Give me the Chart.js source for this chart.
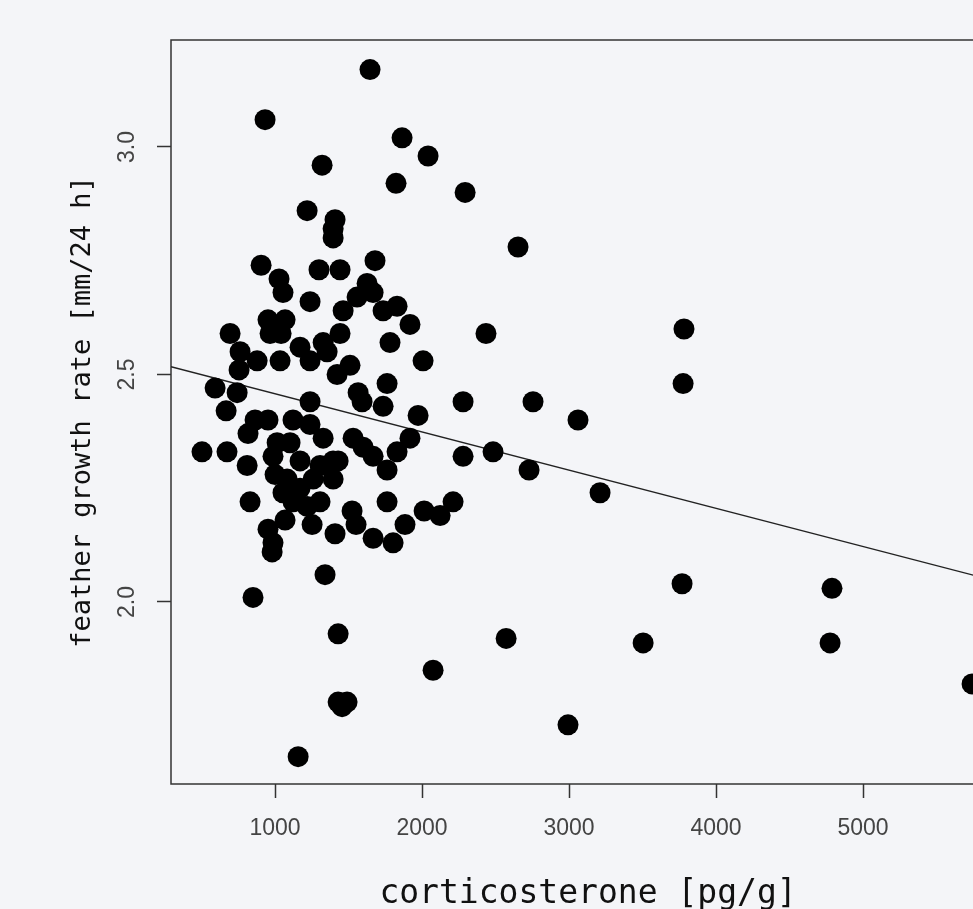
<!DOCTYPE html>
<html>
<head>
<meta charset="utf-8">
<script src="https://cdn.jsdelivr.net/npm/chart.js@4"></script>
<style>
  html, body { margin: 0; padding: 0; background: #f4f5f8; overflow: hidden; }
  #wrap { width: 1040px; height: 909px; }
</style>
</head>
<body>
<div id="wrap"><canvas id="chart" width="1040" height="909"></canvas></div>
<script>
// ── Data ─────────────────────────────────────────────────────────────────────

const corticosterone = [
  1646, 932, 1864, 2041, 1320, 1823, 2293, 1218, 1408, 1395, 1395, 2653,
  905, 1680, 1299, 1442, 1027, 1054, 1626, 1667, 1238, 1558, 1463, 1830,
  1735, 1918, 1782, 2007, 952, 1068, 966, 1041, 694, 762, 755, 878,
  1034, 1170, 1238, 1354, 1442, 1510, 1422, 1762, 2435, 1327,
  3782, 3776, 2279, 2755, 3061, 2483, 2279, 2728, 3211, 3769, 4789, 4776,
  5742, 3504, 2572, 2075, 2993,
  1565, 1592, 1735, 1973, 1918, 1830, 1762, 1667, 1531, 1599, 1429, 1327,
  1395, 1306, 1762, 1524, 1551, 1408, 1667, 1803, 1884, 2014, 2123, 2211,
  592, 742, 667, 1238, 864, 952, 816, 1122, 1238, 503, 673, 810,
  1014, 986, 1000, 1082, 1054, 1170, 1259, 1218, 1252, 830, 952, 1068,
  986, 980, 1102, 1170, 1122, 1306, 1395,
  1340, 850, 1429, 1429, 1490, 1456, 1157
];

const featherGrowth = [
  3.17, 3.06, 3.02, 2.98, 2.96, 2.92, 2.90, 2.86, 2.84, 2.82, 2.80, 2.78,
  2.74, 2.75, 2.73, 2.73, 2.71, 2.68, 2.70, 2.68, 2.66, 2.67, 2.64, 2.65,
  2.64, 2.61, 2.57, 2.53, 2.62, 2.62, 2.59, 2.59, 2.59, 2.55, 2.51, 2.53,
  2.53, 2.56, 2.53, 2.55, 2.59, 2.52, 2.50, 2.48, 2.59, 2.57,
  2.60, 2.48, 2.44, 2.44, 2.40, 2.33, 2.32, 2.29, 2.24, 2.04, 2.03, 1.91,
  1.82, 1.91, 1.92, 1.85, 1.73,
  2.46, 2.44, 2.43, 2.41, 2.36, 2.33, 2.29, 2.32, 2.36, 2.34, 2.31, 2.36,
  2.27, 2.22, 2.22, 2.20, 2.17, 2.15, 2.14, 2.13, 2.17, 2.20, 2.19, 2.22,
  2.47, 2.46, 2.42, 2.44, 2.40, 2.40, 2.37, 2.40, 2.39, 2.33, 2.33, 2.30,
  2.35, 2.32, 2.28, 2.27, 2.24, 2.25, 2.27, 2.21, 2.17, 2.22, 2.16, 2.18,
  2.13, 2.11, 2.35, 2.31, 2.22, 2.30, 2.31,
  2.06, 2.01, 1.93, 1.78, 1.78, 1.77, 1.66
];

// fitted regression line, end points at the plot edges
const fitX = [292, 5966];
const fitY = [2.517, 2.041];

const xTicks = [1000, 2000, 3000, 4000, 5000];
const yTicks = [2.0, 2.5, 3.0];

const X_MIN = 292, X_MAX = 5966;
const Y_MIN = 1.600, Y_MAX = 3.235;

// ── Chart ────────────────────────────────────────────────────────────────────

const AXIS = '#333';
const TICK_TEXT = '#444';

const framePlugin = {
  id: 'frame',
  beforeDatasetsDraw(chart) {
    const { ctx, chartArea: a } = chart;
    ctx.save();
    ctx.strokeStyle = AXIS;
    ctx.lineWidth = 1.5;
    ctx.strokeRect(a.left, a.top, a.right - a.left, a.bottom - a.top);
    ctx.restore();
  }
};

new Chart(document.getElementById('chart'), {
  type: 'scatter',
  data: {
    datasets: [
      {
        data: corticosterone.map((x, i) => ({ x, y: featherGrowth[i] })),
        backgroundColor: '#000',
        borderWidth: 0,
        pointRadius: 10.5,
        pointHoverRadius: 10.5,
      },
      {
        type: 'line',
        data: fitX.map((x, i) => ({ x, y: fitY[i] })),
        borderColor: '#222',
        borderWidth: 1.3,
        pointRadius: 0,
        fill: false,
      }
    ]
  },
  options: {
    responsive: false,
    animation: false,
    events: [],
    layout: { padding: { left: 0, top: 40, right: 35, bottom: 0 } },
    plugins: { legend: { display: false }, tooltip: { enabled: false } },
    scales: {
      x: {
        type: 'linear',
        min: X_MIN, max: X_MAX,
        afterBuildTicks: s => { s.ticks = xTicks.map(v => ({ value: v })); },
        afterFit: s => { s.height = 125; },
        border: { display: false },
        grid: { drawOnChartArea: false, drawTicks: true, tickLength: 14, tickColor: AXIS, tickWidth: 1.5 },
        ticks: {
          autoSkip: false, maxRotation: 0, padding: 17,
          color: TICK_TEXT,
          font: { family: "'Liberation Sans', Arial, sans-serif", size: 23 },
          callback: v => String(v),
        },
        title: {
          display: true,
          text: 'corticosterone [pg/g]',
          color: '#111',
          font: { family: "'DejaVu Sans Mono', monospace", size: 33 },
          padding: { top: 0, bottom: -5 },
        },
      },
      y: {
        type: 'linear',
        min: Y_MIN, max: Y_MAX,
        afterBuildTicks: s => { s.ticks = yTicks.map(v => ({ value: v })); },
        afterFit: s => { s.width = 171; },
        border: { display: false },
        grid: { drawOnChartArea: false, drawTicks: true, tickLength: 14, tickColor: AXIS, tickWidth: 1.5 },
        ticks: {
          minRotation: 90, maxRotation: 90,
          crossAlign: 'center', padding: 13,
          color: TICK_TEXT,
          font: { family: "'Liberation Sans', Arial, sans-serif", size: 23 },
          callback: v => v.toFixed(1),
        },
        title: {
          display: true,
          text: 'feather growth rate [mm/24 h]',
          color: '#111',
          font: { family: "'DejaVu Sans Mono', monospace", size: 27 },
          padding: { top: 67, bottom: 0 },
        },
      }
    }
  },
  plugins: [framePlugin]
});
</script>
</body>
</html>
